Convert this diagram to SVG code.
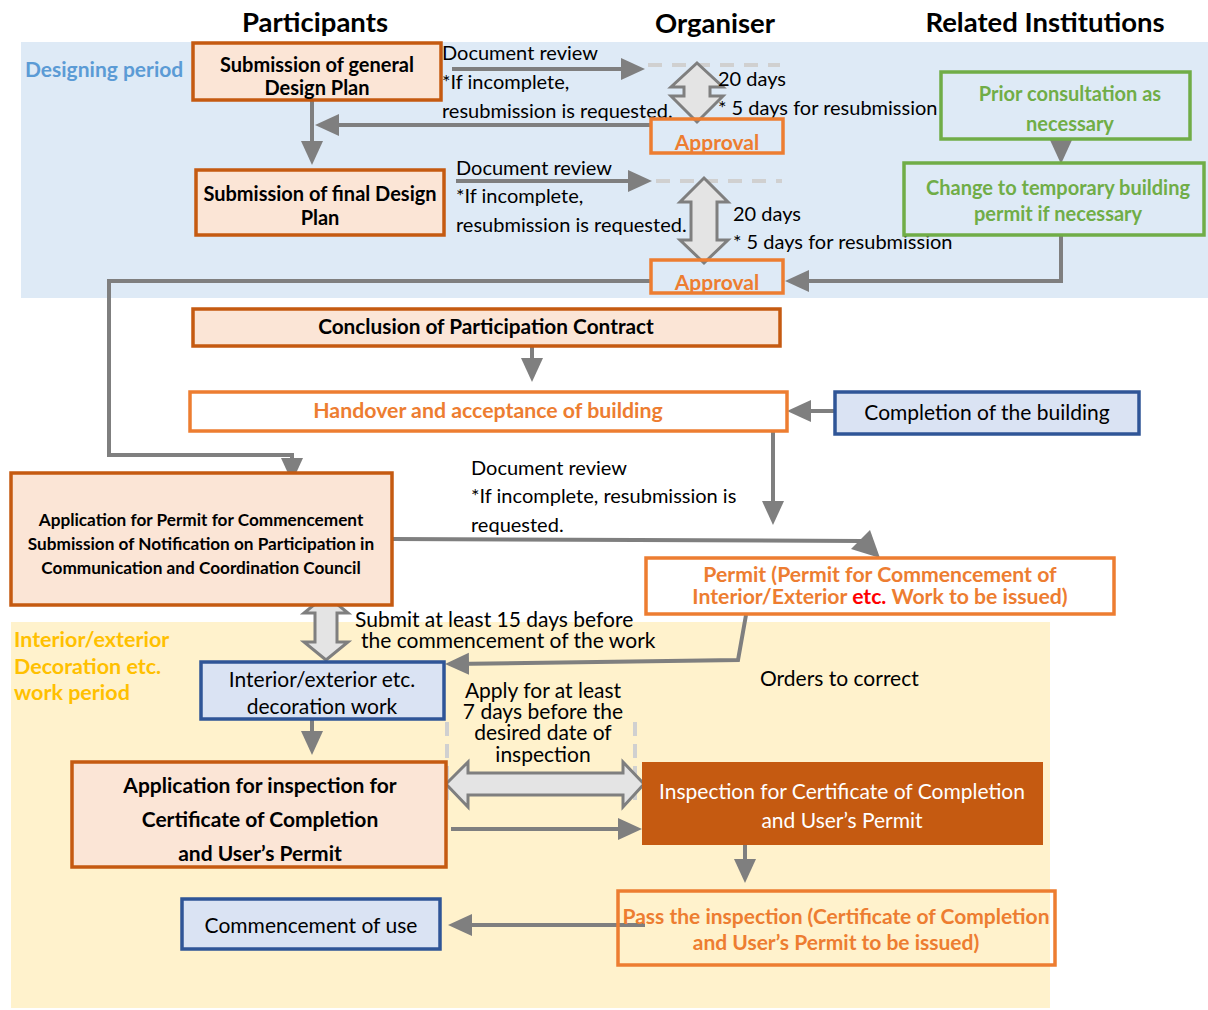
<svg xmlns="http://www.w3.org/2000/svg" width="1208" height="1010" viewBox="0 0 1208 1010">
<style>
text{font-family:Lato,"Open Sans","Liberation Sans",sans-serif;fill:#000}
.hdr{font-size:27.5px;font-weight:bold;text-anchor:middle}
.b{font-weight:bold}
.c{text-anchor:middle}
.t21{font-size:21px}
.t20{font-size:20px}
.boxA{fill:#fbe5d6;stroke:#c55a11;stroke-width:3.5}
.boxO{fill:none;stroke:#ed7d31;stroke-width:3.5}
.boxW{fill:#fff;stroke:#ed7d31;stroke-width:3.5}
.boxB{fill:#dae3f3;stroke:#2f5597;stroke-width:3.5}
.boxG{fill:none;stroke:#70ad47;stroke-width:3.5}
.org{fill:#ed7d31}
.grn{fill:#70ad47}
.ln{fill:none;stroke:#7f7f7f;stroke-width:4}
.arr{fill:none;stroke:#7f7f7f;stroke-width:4;marker-end:url(#ah)}
.dash{fill:none;stroke:#d0d0d0;stroke-width:4;stroke-dasharray:14 10}
.blk{fill:#e4e4e4;stroke:#7f7f7f;stroke-width:3;stroke-linejoin:miter}
</style>
<defs>
<marker id="ah" markerUnits="userSpaceOnUse" markerWidth="26" markerHeight="26" viewBox="0 0 26 26" refX="18" refY="13" orient="auto">
<path d="M0,2 L24,13 L0,24 z" fill="#7f7f7f"/>
</marker>
</defs>

<!-- backgrounds -->
<rect x="21" y="42" width="1187" height="256" fill="#deeaf6"/>
<rect x="11" y="622" width="1039" height="386" fill="#fff2cc"/>

<!-- headers -->
<text class="hdr" x="315" y="32">Participants</text>
<text class="hdr" x="715" y="33">Organiser</text>
<text class="hdr" x="1045" y="32">Related Institutions</text>
<text x="25" y="77" style="font-size:21px;font-weight:bold;fill:#5b9bd5">Designing period</text>
<g style="font-size:21.5px;font-weight:bold">
<text x="14" y="647" style="fill:#ffc000">Interior/exterior</text>
<text x="14" y="674" style="fill:#ffc000">Decoration etc.</text>
<text x="14" y="700" style="fill:#ffc000">work period</text>
</g>

<!-- connectors -->
<g id="connectors">
<line class="arr" x1="312" y1="97" x2="312" y2="159"/>
<line class="arr" x1="452" y1="69" x2="639" y2="69"/>
<line class="dash" x1="648" y1="65" x2="780" y2="65"/>
<line class="arr" x1="650" y1="125" x2="321" y2="125"/>
<line class="arr" x1="456" y1="181" x2="646" y2="181"/>
<line class="dash" x1="656" y1="181" x2="782" y2="181"/>
<polygon class="blk" points="697,63 723,87 710,87 710,96 723,96 697,122 671,96 684,96 684,87 671,87"/>
<polygon class="blk" points="704,178 728,202 717,202 717,240 728,240 704,263 680,240 691,240 691,202 680,202"/>
<line class="arr" x1="1061" y1="139" x2="1061" y2="158"/>
<polyline class="arr" points="1061,235 1061,281 791,281"/>
<polyline class="arr" points="650,281 109,281 109,455 292,455 292,476"/>
<line class="arr" x1="532" y1="346" x2="532" y2="376"/>
<line class="arr" x1="835" y1="411" x2="793" y2="411"/>
<line class="arr" x1="773" y1="431" x2="773" y2="519"/>
<polyline class="ln" points="392,539 862,541"/>
<polygon points="870,530 880,558 851,549" fill="#7f7f7f"/>
<polygon class="blk" points="326,595 348,613 337,613 337,642 348,642 326,660 304,642 315,642 315,613 304,613"/>
<polyline class="arr" points="746,615 738,660 451,664"/>
<line class="arr" x1="312" y1="706" x2="312" y2="749"/>
<line class="dash" x1="447" y1="722" x2="447" y2="800" style="stroke-dasharray:14 8"/>
<line class="dash" x1="635" y1="722" x2="635" y2="800" style="stroke-dasharray:14 8"/>
<polygon class="blk" points="446,784 468,762 468,773 623,773 623,762 644,784 623,807 623,795 468,795 468,807"/>
<line class="arr" x1="451" y1="829" x2="636" y2="829"/>
<line class="arr" x1="745" y1="845" x2="745" y2="877"/>
<line class="arr" x1="645" y1="925" x2="454" y2="925"/>
</g>

<!-- nodes -->
<g id="n-general">
<rect class="boxA" x="193" y="43" width="248" height="57"/>
<text class="b c t20" x="317" y="72">Submission of general</text>
<text class="b c t20" x="317" y="95">Design Plan</text>
</g>
<g id="n-final">
<rect class="boxA" x="196" y="170" width="248" height="65"/>
<text class="b c t20" x="320" y="201">Submission of final Design</text>
<text class="b c t20" x="320" y="225">Plan</text>
</g>
<g id="n-review1-text">
<text class="t20" x="442" y="60">Document review</text>
<text class="t20" x="442" y="89">*If incomplete,</text>
<text class="t20" x="442" y="118">resubmission is requested.</text>
<text class="t20" x="718" y="86">20 days</text>
<text class="t20" x="718" y="115">* 5 days for resubmission</text>
</g>
<g id="n-approval1">
<rect class="boxO" x="651" y="119" width="132" height="34"/>
<text class="b c org t21" x="717" y="150">Approval</text>
</g>
<g id="n-review2-text">
<text class="t20" x="456" y="175">Document review</text>
<text class="t20" x="456" y="203">*If incomplete,</text>
<text class="t20" x="456" y="232">resubmission is requested.</text>
<text class="t20" x="733" y="221">20 days</text>
<text class="t20" x="733" y="249">* 5 days for resubmission</text>
</g>
<g id="n-approval2">
<rect class="boxO" x="651" y="260" width="132" height="33"/>
<text class="b c org t21" x="717" y="290">Approval</text>
</g>
<g id="n-prior">
<rect class="boxG" x="941" y="72" width="249" height="67"/>
<text class="b c grn t20" x="1070" y="101">Prior consultation as</text>
<text class="b c grn t20" x="1070" y="131">necessary</text>
</g>
<g id="n-change">
<rect class="boxG" x="904" y="163" width="300" height="72"/>
<text class="b c grn t20" x="1058" y="195">Change to temporary building</text>
<text class="b c grn t20" x="1058" y="221">permit if necessary</text>
</g>
<g id="n-contract">
<rect class="boxA" x="193" y="309" width="587" height="37"/>
<text class="b c" x="486" y="334" style="font-size:20.8px">Conclusion of Participation Contract</text>
</g>
<g id="n-handover">
<rect class="boxW" x="190" y="392" width="597" height="39"/>
<text class="b c org" x="488" y="418" style="font-size:21.3px">Handover and acceptance of building</text>
</g>
<g id="n-completion">
<rect class="boxB" x="835" y="392" width="304" height="42"/>
<text class="c t21" x="987" y="420">Completion of the building</text>
</g>
<g id="n-review3-text">
<text class="t20" x="471" y="475">Document review</text>
<text class="t20" x="471" y="503">*If incomplete, resubmission is</text>
<text class="t20" x="471" y="532">requested.</text>
</g>
<g id="n-application">
<rect class="boxA" x="11" y="473" width="381" height="132"/>
<text class="b c" x="201" y="526" style="font-size:17.2px">Application for Permit for Commencement</text>
<text class="b c" x="201" y="550" style="font-size:17.2px">Submission of Notification on Participation in</text>
<text class="b c" x="201" y="574" style="font-size:17.2px">Communication and Coordination Council</text>
</g>
<g id="n-permit">
<rect class="boxW" x="646" y="558" width="468" height="56"/>
<text class="b c org" x="880" y="582" style="font-size:21.2px">Permit (Permit for Commencement of</text>
<text class="b c org" x="880" y="604" style="font-size:21.2px">Interior/Exterior <tspan style="fill:#ff0000">etc.</tspan> Work to be issued)</text>
</g>
<g id="n-submit-text">
<text class="t21" x="355" y="627">Submit at least 15 days before</text>
<text class="t21" x="361" y="648">the commencement of the work</text>
<text class="t21" x="760" y="686">Orders to correct</text>
<text class="c t21" x="543" y="698">Apply for at least</text>
<text class="c t21" x="543" y="719">7 days before the</text>
<text class="c t21" x="543" y="740">desired date of</text>
<text class="c t21" x="543" y="762">inspection</text>
</g>
<g id="n-interior">
<rect class="boxB" x="201" y="662" width="243" height="57"/>
<text class="c t21" x="322" y="687">Interior/exterior etc.</text>
<text class="c t21" x="322" y="714">decoration work</text>
</g>
<g id="n-inspect-app">
<rect class="boxA" x="72" y="762" width="374" height="105"/>
<text class="b c t21" x="260" y="793">Application for inspection for</text>
<text class="b c t21" x="260" y="827">Certificate of Completion</text>
<text class="b c t21" x="260" y="861">and User’s Permit</text>
</g>
<g id="n-inspection">
<rect x="642" y="762" width="401" height="83" fill="#c55a11"/>
<text class="c t21" x="842" y="799" style="fill:#fff">Inspection for Certificate of Completion</text>
<text class="c t21" x="842" y="828" style="fill:#fff">and User’s Permit</text>
</g>
<g id="n-pass">
<rect class="boxO" x="618" y="891" width="437" height="74"/>
<text class="b c org t21" x="836" y="924">Pass the inspection (Certificate of Completion</text>
<text class="b c org t21" x="836" y="950">and User’s Permit to be issued)</text>
</g>
<g id="n-use">
<rect class="boxB" x="182" y="899" width="258" height="50"/>
<text class="c t21" x="311" y="933">Commencement of use</text>
</g>
</svg>
